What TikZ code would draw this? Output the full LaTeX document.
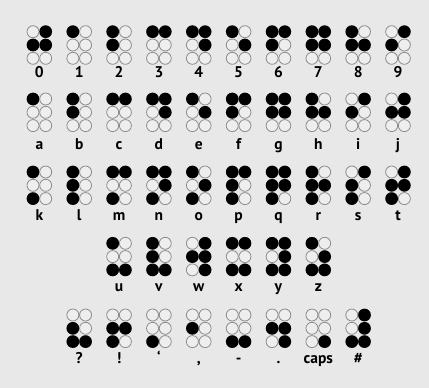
\documentclass[tikz,border=0pt]{standalone}
\usepackage{fontspec}
\setmainfont{PT Sans}

\definecolor{paper}{HTML}{E8E8E8}
\definecolor{rim}{HTML}{8C8C8C}
\definecolor{hollow}{HTML}{EEEEEE}

\tikzset{
  hole/.style={draw=rim, fill=hollow, line width=0.8pt},
  pip/.style={fill=black},
  sign/.style={anchor=base, inner sep=0pt, font=\bfseries\fontsize{15.5}{15.5}\selectfont}
}

% one braille cell: name, left x, top y, label baseline, raised dots, label
\newcommand{\braillecell}[6]{%
  \edef\celldots{#5}%
  \foreach \pc in {0,1}
    \foreach \pr in {0,1,2}
      \draw[hole] (#2+12.7*\pc, #3+13.3*\pr) circle (6pt);
  \foreach \d in \celldots {
    \pgfmathtruncatemacro\pc{(\d-1)/3}
    \pgfmathtruncatemacro\pr{mod(\d-1,3)}
    \fill[pip] (#2+12.7*\pc, #3+13.3*\pr) circle (6.3pt);
  }
  \node[sign] (#1) at (#2+6.35, #4) {#6};
}

\begin{document}
\begin{tikzpicture}[x=1pt, y=-1pt]

% Paper
\path[use as bounding box, fill=paper] (0,0) rectangle (429,388);

% Digits
\foreach \sym/\pips [count=\i from 0] in {0/{2,4,5}, 1/1, 2/{1,2}, 3/{1,4}, 4/{1,4,5},
    5/{1,5}, 6/{1,2,4}, 7/{1,2,4,5}, 8/{1,2,5}, 9/{2,4}}
  \braillecell{r1c\i}{33+39.85*\i}{31.7}{77.5}{\pips}{\sym};

% a -- j
\foreach \sym/\pips [count=\i from 0] in {a/1, b/{1,2}, c/{1,4}, d/{1,4,5}, e/{1,5},
    f/{1,2,4}, g/{1,2,4,5}, h/{1,2,5}, i/{2,4}, j/{2,4,5}}
  \braillecell{r2c\i}{33+39.85*\i}{99}{149}{\pips}{\sym};

% k -- t
\foreach \sym/\pips [count=\i from 0] in {k/{1,3}, l/{1,2,3}, m/{1,3,4}, n/{1,3,4,5},
    o/{1,3,5}, p/{1,2,3,4}, q/{1,2,3,4,5}, r/{1,2,3,5}, s/{2,3,4}, t/{2,3,4,5}}
  \braillecell{r3c\i}{33+39.85*\i}{172}{220}{\pips}{\sym};

% u -- z
\foreach \sym/\pips [count=\i from 2] in {u/{1,3,6}, v/{1,2,3,6}, w/{2,4,5,6},
    x/{1,3,4,6}, y/{1,3,4,5,6}, z/{1,3,5,6}}
  \braillecell{r4c\i}{33+39.85*\i}{243.3}{291}{\pips}{\sym};

% Punctuation and signs
\foreach \sym/\pips [count=\i from 1] in {?/{2,3,6}, !/{2,3,5}, ‘/3, {,}/2, -/{3,6},
    ./{2,5,6}, caps/6, \#/{3,4,5,6}}
  \braillecell{r5c\i}{33+39.85*\i}{315}{363}{\pips}{\sym};

\end{tikzpicture}
\end{document}
